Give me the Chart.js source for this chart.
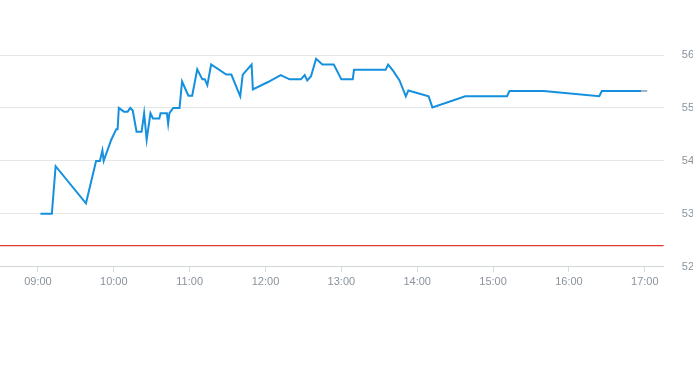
<!DOCTYPE html>
<html>
<head>
<meta charset="utf-8">
<script src="https://cdn.jsdelivr.net/npm/chart.js@4.4.0/dist/chart.umd.min.js"></script>
<style>
  html, body { margin: 0; padding: 0; background: #fff; overflow: hidden; }
  #wrap { width: 712px; height: 365px; position: relative; }
</style>
</head>
<body>
<div id="wrap"><canvas id="priceChart"></canvas></div>
<script>
const times = ['09:02', '09:11', '09:14', '09:38', '09:46', '09:49', '09:51', '09:52', '09:58', '10:02',
    '10:03', '10:04', '10:08', '10:11', '10:13', '10:15', '10:18', '10:22', '10:24', '10:26',
    '10:29', '10:31', '10:36', '10:37', '10:42', '10:43', '10:44', '10:47', '10:52', '10:54',
    '10:59', '11:02', '11:06', '11:10', '11:12', '11:14', '11:17', '11:29', '11:33', '11:40',
    '11:42', '11:49', '11:50', '12:02', '12:12', '12:19', '12:28', '12:31', '12:33', '12:36',
    '12:40', '12:45', '12:54', '13:00', '13:09', '13:10', '13:35', '13:37', '13:41', '13:46',
    '13:51', '13:53', '14:09', '14:12', '14:38', '15:11', '15:13', '15:40', '16:24', '16:26',
    '16:57'];
const prices = [53.0, 53.0, 53.9, 53.2, 54.0, 54.0, 54.2, 54.0, 54.4, 54.6,
    54.6, 55.0, 54.93, 54.93, 55.0, 54.95, 54.55, 54.55, 54.9, 54.4,
    54.9, 54.8, 54.8, 54.9, 54.9, 54.7, 54.9, 55.0, 55.0, 55.5,
    55.23, 55.23, 55.73, 55.54, 55.54, 55.43, 55.82, 55.63, 55.63, 55.22,
    55.63, 55.82, 55.35, 55.49, 55.62, 55.54, 55.54, 55.62, 55.52, 55.6,
    55.93, 55.82, 55.82, 55.54, 55.54, 55.72, 55.72, 55.82, 55.7, 55.52,
    55.22, 55.33, 55.22, 55.01, 55.22, 55.22, 55.32, 55.32, 55.22, 55.32,
    55.32];
const afterTimes = ['16:57', '17:02'];
const afterPrices = [55.32, 55.32];
const prevClose = 52.4;
const hourLabels = ['09:00', '10:00', '11:00', '12:00', '13:00', '14:00', '15:00', '16:00', '17:00'];
const dayStart = '08:30';
const dayEnd = '17:15';

function toMin(s) {
    const p = s.split(':');
    return parseInt(p[0], 10) * 60 + parseInt(p[1], 10);
}
function fmt(m) {
    const h = Math.floor(m / 60), mm = Math.round(m % 60);
    return String(h).padStart(2, '0') + ':' + String(mm).padStart(2, '0');
}

const tickColor = '#8a939c';
const ctx = document.getElementById('priceChart').getContext('2d');

new Chart(ctx, {
    type: 'line',
    data: {
        datasets: [
            {
                data: times.map((t, i) => ({ x: toMin(t), y: prices[i] })),
                borderColor: '#1590de',
                borderWidth: 2,
                pointRadius: 0,
                tension: 0
            },
            {
                data: afterTimes.map((t, i) => ({ x: toMin(t), y: afterPrices[i] })),
                borderColor: '#aab4be',
                borderWidth: 2,
                pointRadius: 0,
                tension: 0
            },
            {
                data: [{ x: toMin(dayStart), y: prevClose }, { x: toMin(dayEnd), y: prevClose }],
                borderColor: '#e0392f',
                borderWidth: 1.2,
                pointRadius: 0,
                tension: 0
            }
        ]
    },
    options: {
        responsive: true,
        maintainAspectRatio: false,
        animation: false,
        layout: { padding: { top: 55, bottom: 72, left: 0, right: 0 } },
        plugins: { legend: { display: false }, tooltip: { enabled: false } },
        scales: {
            x: {
                type: 'linear',
                min: toMin(dayStart),
                max: toMin(dayEnd),
                afterBuildTicks: function (scale) {
                    scale.ticks = hourLabels.map(h => ({ value: toMin(h) }));
                },
                grid: { drawOnChartArea: false, color: '#d6dbe0', tickLength: 5 },
                border: { color: '#d0d5da' },
                ticks: {
                    color: tickColor,
                    font: { family: 'Liberation Sans', size: 11 },
                    maxRotation: 0,
                    padding: 4,
                    callback: v => fmt(v)
                }
            },
            y: {
                position: 'right',
                min: 52,
                max: 56,
                grid: { color: '#e4e7ea', drawTicks: false },
                border: { display: false },
                ticks: {
                    stepSize: 1,
                    color: tickColor,
                    font: { family: 'Liberation Sans', size: 11 },
                    padding: 18
                }
            }
        }
    }
});
</script>
</body>
</html>
